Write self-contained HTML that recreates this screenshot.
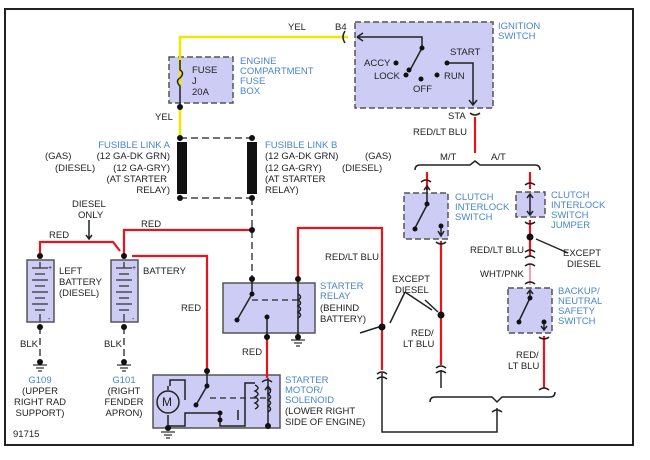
<!DOCTYPE html>
<html><head><meta charset="utf-8"><style>
html,body{margin:0;padding:0;background:#fff;}
svg{display:block;}
text{font-family:"Liberation Sans",sans-serif;font-size:9.5px;fill:#222;}
.b{fill:#4a86c8;}
</style></head><body>
<svg width="650" height="460" viewBox="0 0 650 460" xmlns="http://www.w3.org/2000/svg">
<rect x="5" y="9" width="628" height="436" fill="#fff" stroke="#222" stroke-width="2"/>
<g fill="#ccccf5" stroke="#555" stroke-width="1.5">
<rect x="169" y="57" width="64" height="46" stroke-dasharray="6,3"/>
<rect x="355" y="22" width="138" height="86" stroke-dasharray="6,3"/>
<rect x="404" y="193" width="44" height="46" stroke-dasharray="6,3"/>
<rect x="516" y="192" width="29" height="25" stroke-dasharray="6,3"/>
<rect x="508" y="288" width="44" height="45" stroke-dasharray="6,3"/>
<rect x="223" y="283" width="92" height="50"/>
<rect x="153" y="375" width="127" height="53"/>
<rect x="27" y="260" width="27" height="62"/>
<rect x="111" y="260" width="27" height="62"/>
</g>
<!-- yellow -->
<polyline points="348,37 180,37 180,88" fill="none" stroke="#f2e600" stroke-width="2.5"/>
<line x1="180" y1="107" x2="180" y2="138" stroke="#f2e600" stroke-width="2.5"/>
<path d="M180,60 V70 q5,3 0,8 q-5,3 0,8 V107" fill="none" stroke="#222" stroke-width="1.5"/>
<!-- fusible links -->
<g stroke="#444" stroke-width="1.5" stroke-dasharray="7,4" fill="none">
<line x1="180" y1="138" x2="252" y2="138"/><line x1="180" y1="198" x2="252" y2="198"/>
<line x1="252" y1="198" x2="252" y2="279"/>
<line x1="40" y1="327" x2="40" y2="362"/><line x1="124" y1="327" x2="124" y2="362"/>
<line x1="252" y1="300" x2="297" y2="300" stroke-dasharray="6,4"/>
<line x1="210" y1="398" x2="268" y2="398" stroke-dasharray="6,4"/>
</g>
<rect x="177" y="142" width="10" height="52" fill="#111"/>
<rect x="247" y="142" width="10" height="52" fill="#111"/>
<!-- red wires -->
<g stroke="#e8141c" stroke-width="2.2" fill="none">
<polyline points="40,256 40,242 113,242 120,251"/>
<polyline points="124,256 124,230 252,230"/>
<polyline points="132,256 207,256 207,371"/>
<polyline points="298,279 298,228 382,228 382,370"/>
<line x1="267" y1="337" x2="267" y2="378"/>
<line x1="475" y1="117" x2="475" y2="153"/>
<line x1="427" y1="172" x2="427" y2="190"/>
<line x1="530" y1="172" x2="530" y2="189"/>
<line x1="441" y1="241" x2="441" y2="365"/>
<line x1="530" y1="220" x2="530" y2="256"/>
<line x1="544" y1="336" x2="544" y2="388"/>
</g>
<line x1="530" y1="264" x2="530" y2="285" stroke="#f0a0b0" stroke-width="2"/>
<!-- black wires -->
<g stroke="#222" stroke-width="1.5" fill="none">
<polyline points="382,373 382,432 497,432 497,408"/>
<line x1="441" y1="370" x2="441" y2="388"/>
<path d="M415,170 q0,-5 5,-5 H470 l5,-4 l5,4 H535 q5,0 5,5"/>
<path d="M430,402 q0,-5 5,-5 H492 l5,5 l5,-5 H550 q5,0 5,-5"/>
<path d="M345,31 q-4,6 0,12 M357,37 l6,-4 M357,37 l6,4 M357,37 H422 V48 L409,72"/>
<path d="M447,63 H473 V105 M469,100 l4,5 4,-5"/>
<path d="M470,113 q5,4 10,0"/>
<path d="M421,182 q5,-4 10,0 M427,186 V205 M424,190 l3,-4 3,4 M427,205 L415,228 M441,226 V236 M438,231 l3,5 3,-5 M436,242 q5,4 10,0"/>
<path d="M525,185 q5,-4 10,0 M530,195 V214 M527,198 l3,-4 3,4 M527,211 l3,4 3,-4 M525,222 q5,4 10,0"/>
<path d="M525,252 q5,-4 10,0 M525,258 q5,-4 10,0 M525,266 q5,-4 10,0 M525,284 q5,-4 10,0 M530,290 V298 M527,294 l3,-4 3,4 M530,298 L519,321 M544,322 V330 M541,326 l3,4 3,-4 M539,337 q5,4 10,0"/>
<path d="M377,374 q5,-4 10,0 M377,379 q5,-4 10,0 M436,368 q5,-4 10,0 M436,373 q5,-4 10,0 M539,390 q5,-4 10,0 M492,412 q5,-4 10,0"/>
<path d="M252,279 V294 L237,320 M267,317 V337 M298,279 V337"/>
<path d="M298,294 q5,3 0,6 q5,3 0,6 q5,3 0,6 q5,3 0,6"/>
<path d="M207,371 V386 L196,405 M168,386 V390 M168,415 V426 H185 V413 H220 V426 H245 V383 H255 M238,410 V420 M268,378 V426 M262,382 q5,-4 10,0 M265,390 l3,-4 3,4"/>
<path d="M170,386 V380 H185 V400 M255,385 q6,3 0,6 q6,3 0,6 q6,3 0,6 q6,3 0,6 M268,388 q5,3 0,6 q5,3 0,6 q5,3 0,6 q5,3 0,6"/>
<path d="M385,325 L360,333 M425,300 L438,312 M405,292 L390,323 M405,292 L432,310 M568,253 L536,239"/>
<path d="M89,220 V238 M86,235 l3,4 3,-4"/>
</g>
<circle cx="168" cy="402" r="11" fill="#ccccf5" stroke="#222" stroke-width="1.5"/>
<text x="162" y="406" style="font-size:12px">M</text>
<!-- battery plates -->
<g stroke="#333" stroke-width="1.3">
<path d="M40,262 V268 M32,268 H48 M35,274 H45 M32,280 H48 M35,286 H45 M32,292 H48 M35,298 H45 M32,304 H48 M35,310 H45 M40,314 V322"/>
<path d="M124,262 V268 M116,268 H132 M119,274 H129 M116,280 H132 M119,286 H129 M116,292 H132 M119,298 H129 M116,304 H132 M119,310 H129 M124,314 V322"/>
<path d="M33,365 H47 M36,368 H44 M38,371 H42 M117,365 H131 M120,368 H128 M122,371 H126 M291,340 H305 M294,343 H302 M296,346 H300 M161,432 H175 M164,435 H172 M166,438 H170"/>
</g>
<text x="48" y="270" style="font-size:7px">+</text><text x="48" y="321" style="font-size:7px">-</text>
<text x="132" y="270" style="font-size:7px">+</text><text x="132" y="321" style="font-size:7px">-</text>
<!-- dots -->
<g fill="#111">
<circle cx="180" cy="107" r="3"/><circle cx="180" cy="138" r="3"/><circle cx="252" cy="138" r="3"/>
<circle cx="180" cy="198" r="3"/><circle cx="252" cy="198" r="3"/><circle cx="252" cy="230" r="3"/>
<circle cx="40" cy="256" r="3"/><circle cx="124" cy="256" r="3"/><circle cx="40" cy="327" r="3"/><circle cx="124" cy="327" r="3"/>
<circle cx="40" cy="362" r="3"/><circle cx="124" cy="362" r="3"/>
<circle cx="252" cy="279" r="3"/><circle cx="298" cy="279" r="3"/><circle cx="267" cy="337" r="3"/><circle cx="298" cy="337" r="3"/>
<circle cx="252" cy="294" r="2.5"/><circle cx="237" cy="320" r="2.5"/><circle cx="267" cy="317" r="2.5"/>
<circle cx="207" cy="371" r="3"/><circle cx="207" cy="386" r="2.5"/><circle cx="196" cy="405" r="2.5"/><circle cx="220" cy="413" r="2.5"/><circle cx="220" cy="420" r="2.5"/><circle cx="268" cy="426" r="3"/><circle cx="168" cy="428" r="3"/><circle cx="298" cy="336" r="2"/>
<circle cx="422" cy="48" r="2.5"/><circle cx="409" cy="70" r="2.5"/><circle cx="396" cy="63" r="2.5"/><circle cx="406" cy="75" r="2.5"/><circle cx="421" cy="79" r="2.5"/><circle cx="437" cy="75" r="2.5"/><circle cx="447" cy="63" r="2.5"/>
<circle cx="427" cy="204" r="2.5"/><circle cx="415" cy="229" r="2.5"/><circle cx="441" cy="226" r="2.5"/>
<circle cx="530" cy="237" r="3.5"/><circle cx="441" cy="315" r="3.5"/><circle cx="382" cy="327" r="3.5"/>
<circle cx="530" cy="298" r="2.5"/><circle cx="519" cy="322" r="2.5"/><circle cx="544" cy="322" r="2.5"/>
</g>
<!-- labels -->
<text x="288" y="30">YEL</text><text x="335" y="30">B4</text>
<text x="155" y="120">YEL</text>
<text x="192" y="73">FUSE</text><text x="192" y="84">J</text><text x="192" y="95">20A</text>
<text x="240" y="64" class="b">ENGINE</text><text x="240" y="74" class="b">COMPARTMENT</text><text x="240" y="84" class="b">FUSE</text><text x="240" y="94" class="b">BOX</text>
<text x="498" y="29" class="b">IGNITION</text><text x="498" y="39" class="b">SWITCH</text>
<text x="364" y="66">ACCY</text><text x="374" y="79">LOCK</text><text x="413" y="92">OFF</text><text x="450" y="55">START</text><text x="444" y="79">RUN</text>
<text x="448" y="119">STA</text><text x="413" y="135">RED/LT BLU</text>
<text x="440" y="160">M/T</text><text x="491" y="160">A/T</text>
<g text-anchor="end">
<text x="170" y="148" class="b">FUSIBLE LINK A</text><text x="170" y="159">(12 GA-DK GRN)</text><text x="170" y="171">(12 GA-GRY)</text><text x="167" y="182">(AT STARTER</text><text x="170" y="193">RELAY)</text>
</g>
<text x="45" y="159">(GAS)</text><text x="55" y="171">(DIESEL)</text>
<text x="265" y="148" class="b">FUSIBLE LINK B</text><text x="265" y="159">(12 GA-DK GRN)</text><text x="265" y="171">(12 GA-GRY)</text><text x="265" y="182">(AT STARTER</text><text x="265" y="193">RELAY)</text>
<text x="365" y="159">(GAS)</text><text x="342" y="171">(DIESEL)</text>
<text x="455" y="200" class="b">CLUTCH</text><text x="455" y="210" class="b">INTERLOCK</text><text x="455" y="220" class="b">SWITCH</text>
<text x="551" y="198" class="b">CLUTCH</text><text x="551" y="208" class="b">INTERLOCK</text><text x="551" y="218" class="b">SWITCH</text><text x="551" y="228" class="b">JUMPER</text>
<text x="470" y="253">RED/LT BLU</text><text x="563" y="256">EXCEPT</text><text x="567" y="267">DIESEL</text>
<text x="480" y="277">WHT/PNK</text>
<text x="558" y="294" class="b">BACKUP/</text><text x="558" y="304" class="b">NEUTRAL</text><text x="558" y="314" class="b">SAFETY</text><text x="558" y="324" class="b">SWITCH</text>
<text x="516" y="358">RED/</text><text x="508" y="369">LT BLU</text>
<text x="392" y="282">EXCEPT</text><text x="395" y="293">DIESEL</text>
<text x="411" y="336">RED/</text><text x="403" y="347">LT BLU</text>
<text x="325" y="260">RED/LT BLU</text>
<text x="320" y="289" class="b">STARTER</text><text x="320" y="299" class="b">RELAY</text><text x="320" y="311">(BEHIND</text><text x="320" y="322">BATTERY)</text>
<text x="242" y="355">RED</text><text x="181" y="311">RED</text>
<text x="285" y="383" class="b">STARTER</text><text x="285" y="393" class="b">MOTOR/</text><text x="285" y="403" class="b">SOLENOID</text><text x="285" y="414">(LOWER RIGHT</text><text x="285" y="425">SIDE OF ENGINE)</text>
<text x="72" y="207">DIESEL</text><text x="78" y="218">ONLY</text>
<text x="49" y="238">RED</text><text x="141" y="227">RED</text>
<text x="59" y="274">LEFT</text><text x="59" y="285">BATTERY</text><text x="59" y="296">(DIESEL)</text>
<text x="143" y="274">BATTERY</text>
<text x="20" y="347">BLK</text><text x="104" y="347">BLK</text>
<g text-anchor="middle">
<text x="40" y="383" class="b">G109</text><text x="40" y="394">(UPPER</text><text x="40" y="405">RIGHT RAD</text><text x="40" y="416">SUPPORT)</text>
<text x="124" y="383" class="b">G101</text><text x="124" y="394">(RIGHT</text><text x="124" y="405">FENDER</text><text x="124" y="416">APRON)</text>
</g>
<text x="13" y="437">91715</text>
</svg>
</body></html>
